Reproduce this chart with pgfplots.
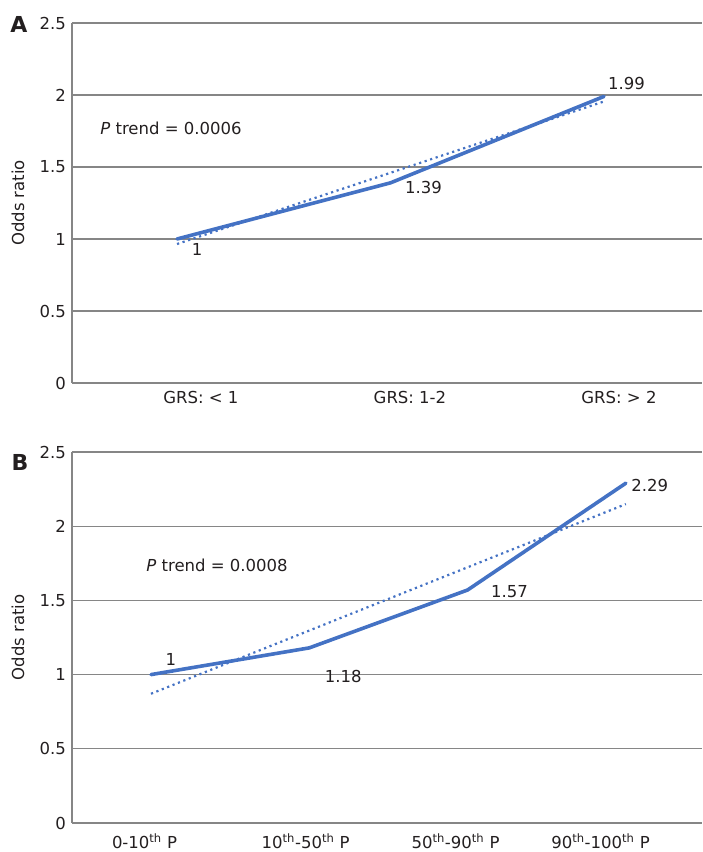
\documentclass[border=0pt]{standalone}
\usepackage{pgfplots}
\pgfplotsset{compat=1.18}
\usepackage{pgfplotstable}
\usepackage{fontspec}
\setmainfont{DejaVu Sans}
\definecolor{exblue}{HTML}{4472C4}
\definecolor{gridgray}{HTML}{868686}
\definecolor{txt}{HTML}{231F20}

% panel A: GRS groups
\pgfplotstableread{
x y dx dy lab
0 1 20 -10 1
1 1.39 33 -5 1.39
2 1.99 22.5 13 1.99
}\dataA
% panel B: percentile groups
\pgfplotstableread{
x y dx dy lab
0 1 20 15 1
1 1.18 34 -29 1.18
2 1.57 42 -2 1.57
3 2.29 24 -2 2.29
}\dataB

\pgfplotsset{oddstyle/.style={
  scale only axis, width=630pt,
  ymin=0, ymax=2.5, ytick={0,0.5,1,1.5,2,2.5}, yticklabels={0,0.5,1,1.5,2,2.5},
  axis x line*=bottom, axis y line*=left,
  axis line style={draw=gridgray, line width=1.1pt, -},
  ymajorgrids, grid style={draw=gridgray, line width=1.1pt},
  major tick length=0pt, tick style={draw=none},
  tick label style={text=txt},
  yticklabel style={anchor=east, inner sep=0pt, xshift=-6pt},
  xticklabel style={anchor=base, inner sep=0pt},
  ylabel={Odds ratio},
  ylabel style={at={(axis description cs:-0.0857,0.5)}, anchor=center, inner sep=0pt, text=txt},
  clip=false,
  mainline/.style={exblue, line width=3.6pt, line join=round, line cap=round, mark=none,
    nodes near coords, point meta=explicit symbolic,
    visualization depends on={\thisrow{dx}\as\dx},
    visualization depends on={\thisrow{dy}\as\dy},
    every node near coord/.append style={anchor=center, xshift=\dx, yshift=\dy, text=txt, inner sep=0pt}},
  trendline/.style={exblue, line width=2.2pt, dash pattern=on 2.2pt off 3.6pt, mark=none},
}}

\begin{document}
\fontsize{16.5}{19}\selectfont
\begin{tikzpicture}
\useasboundingbox (0,0) rectangle (702pt,852pt);

\begin{axis}[oddstyle, height=360pt, at={(72pt,469pt)}, anchor=south west,
  xmin=-0.492, xmax=2.459,
  xtick={0.112,1.091,2.070},
  xticklabels={GRS: < 1, GRS: 1-2, GRS: > 2},
  xticklabel style={yshift=-21pt}]
\addplot[mainline] table[x=x, y=y, meta=lab] {\dataA};
\addplot[trendline] coordinates {(0,0.965) (2,1.955)};
\node[anchor=west, inner sep=0pt, text=txt] at (axis cs:-0.36,1.771) {\textit{P} trend = 0.0006};
\end{axis}

\begin{axis}[oddstyle, height=371pt, at={(72pt,29pt)}, anchor=south west,
  xmin=-0.499, xmax=3.481,
  xtick={-0.041,0.977,1.924,2.840},
  xticklabels={0-10\textsuperscript{th} P, 10\textsuperscript{th}-50\textsuperscript{th} P, 50\textsuperscript{th}-90\textsuperscript{th} P, 90\textsuperscript{th}-100\textsuperscript{th} P},
  xticklabel style={yshift=-26pt}]
\addplot[mainline] table[x=x, y=y, meta=lab] {\dataB};
\addplot[trendline] coordinates {(0,0.871) (3,2.149)};
\node[anchor=west, inner sep=0pt, text=txt] at (axis cs:-0.03,1.736) {\textit{P} trend = 0.0008};
\end{axis}

\node[font=\bfseries\fontsize{22}{24}\selectfont, text=txt] at (19pt,828pt) {A};
\node[font=\bfseries\fontsize{22}{24}\selectfont, text=txt] at (20pt,390pt) {B};
\end{tikzpicture}
\end{document}
